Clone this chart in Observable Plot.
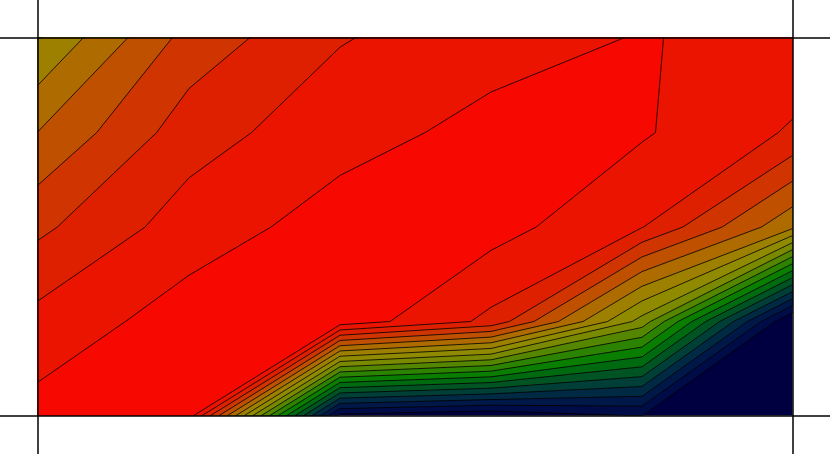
<!DOCTYPE html>
<html><head><meta charset="utf-8">
<style>html,body{margin:0;padding:0;background:#fff}svg{display:block}</style>
<script src="https://cdn.jsdelivr.net/npm/d3@7"></script>
<script src="https://cdn.jsdelivr.net/npm/@observablehq/plot@0.6"></script>
</head><body><script>
const row0 = [11.99, 15.38, 16.93, 17.64, 18.05, 17.7];
const row1 = [14.02, 16.54, 17.65, 18.27, 18.11, 16.88];
const row2 = [15.78, 17.5, 18.42, 18.41, 17.04, 13.2];
const row3 = [17.34, 18.48, 18.62, 16.75, 10.6, -0.3];
const row4 = [18.37, 18.47, 0.6, 0.1, 1.0, -3];
const levels = [-5, ...d3.range(1, 19)];
const palette = ["#000040","#000C48","#001848","#002A44","#003E38","#005424","#006A10","#0A7E00","#2C8300","#558600","#7A8A00","#908A00","#9D8000","#AE6B00","#BF5000","#D03400","#DF2000","#EB1400","#F70800"];
const grid = [...row0, ...row1, ...row2, ...row3, ...row4];
const frameX = [0, 5], frameY = [0, 4];
const chart = Plot.plot({
  width: 830, height: 454,
  marginLeft: 37.5, marginRight: 37.5, marginTop: 37.5, marginBottom: 38.5,
  axis: null,
  x: {domain: frameX},
  y: {domain: frameY, reverse: true},
  color: {type: "threshold", domain: levels.slice(1), range: palette},
  marks: [
    Plot.contour(grid, {width: 6, height: 5, x1: -0.5, x2: 5.5, y1: -0.5, y2: 4.5,
      thresholds: levels, fill: Plot.identity, stroke: "#000", strokeWidth: 0.8, clip: true}),
    Plot.ruleX(frameX, {y1: -0.41, y2: 4.41, stroke: "#000", strokeWidth: 1.5}),
    Plot.ruleY(frameY, {x1: -0.26, x2: 5.26, stroke: "#000", strokeWidth: 1.5})
  ]
});
document.body.appendChild(chart);
</script></body></html>
